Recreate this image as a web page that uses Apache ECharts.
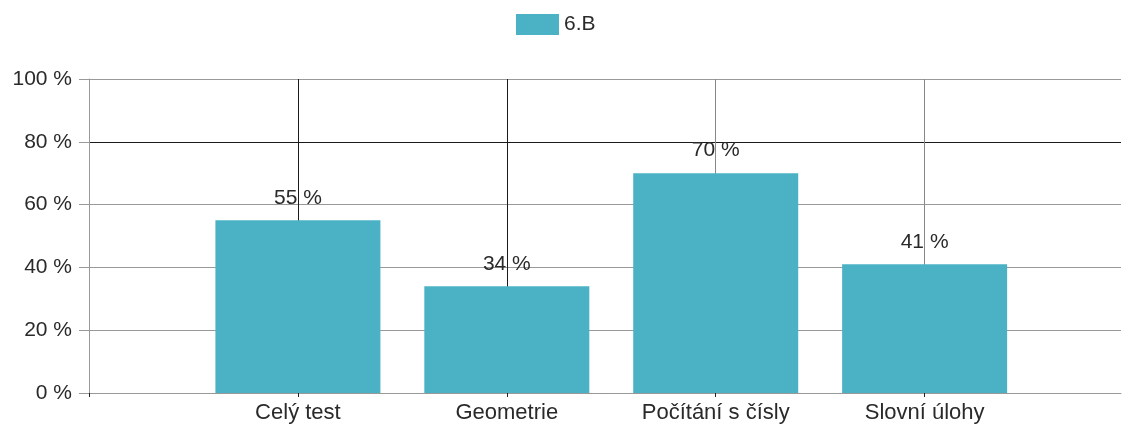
<!DOCTYPE html>
<html>
<head>
<meta charset="utf-8">
<script src="https://cdn.jsdelivr.net/npm/echarts@6/dist/echarts.min.js"></script>
<style>
html,body{margin:0;padding:0;background:#fff;}
#c{width:1124px;height:425px;}
</style>
</head>
<body>
<div id="c"></div>
<script>
var categories = ['Celý test', 'Geometrie', 'Počítání s čísly', 'Slovní úlohy'];
var seriesName = '6.B';
var values = [55, 34, 70, 41];
var yTicks = [0, 20, 40, 60, 80, 100];

var chart = echarts.init(document.getElementById('c'), null, {renderer: 'canvas'});
var font = 'Liberation Sans, Arial, sans-serif';
var data = values.map(function (v, i) { return [i + 1, v]; });
var xTickValues = [0].concat(categories.map(function (c, i) { return i + 1; }));

chart.setOption({
  animation: false,
  backgroundColor: '#fff',
  textStyle: {fontFamily: font},
  legend: {
    data: [seriesName],
    left: 511,
    top: 9,
    itemWidth: 43,
    itemHeight: 21,
    itemGap: 10,
    textStyle: {fontSize: 21, color: '#2a2a2a', fontFamily: font},
    icon: 'rect'
  },
  grid: {left: 89, right: -3, top: 79, bottom: 32, containLabel: false},
  xAxis: {
    type: 'value',
    min: 0,
    max: 4.94,
    interval: 1,
    axisLine: {show: true, lineStyle: {color: '#999', width: 1}},
    axisTick: {show: true, length: 4, customValues: xTickValues, lineStyle: {color: '#222'}},
    axisLabel: {
      fontSize: 22, color: '#2a2a2a', margin: 9, fontFamily: font,
      formatter: function (v) { return categories[v - 1] || ''; }
    },
    splitLine: {show: true, lineStyle: {color: ['#999', '#1a1a1a', '#1a1a1a', '#888', '#888', '#888'], width: 1}}
  },
  yAxis: {
    type: 'value',
    min: yTicks[0],
    max: yTicks[yTicks.length - 1],
    interval: 20,
    axisLine: {show: true, lineStyle: {color: '#999'}},
    axisTick: {show: true, length: 10, lineStyle: {color: '#999'}},
    axisLabel: {fontSize: 21, color: '#2a2a2a', margin: 17, fontFamily: font, formatter: '{value} %'},
    splitLine: {show: true, lineStyle: {color: ['#999', '#999', '#999', '#999', '#1a1a1a', '#999'], width: 1}}
  },
  series: [{
    name: seriesName,
    type: 'bar',
    data: data,
    barWidth: 165,
    itemStyle: {color: '#4BB2C6'},
    label: {
      show: true, position: 'top', distance: 12,
      fontSize: 21, color: '#2a2a2a', fontFamily: font,
      formatter: function (p) { return p.value[1] + ' %'; }
    }
  }]
});
</script>
</body>
</html>
